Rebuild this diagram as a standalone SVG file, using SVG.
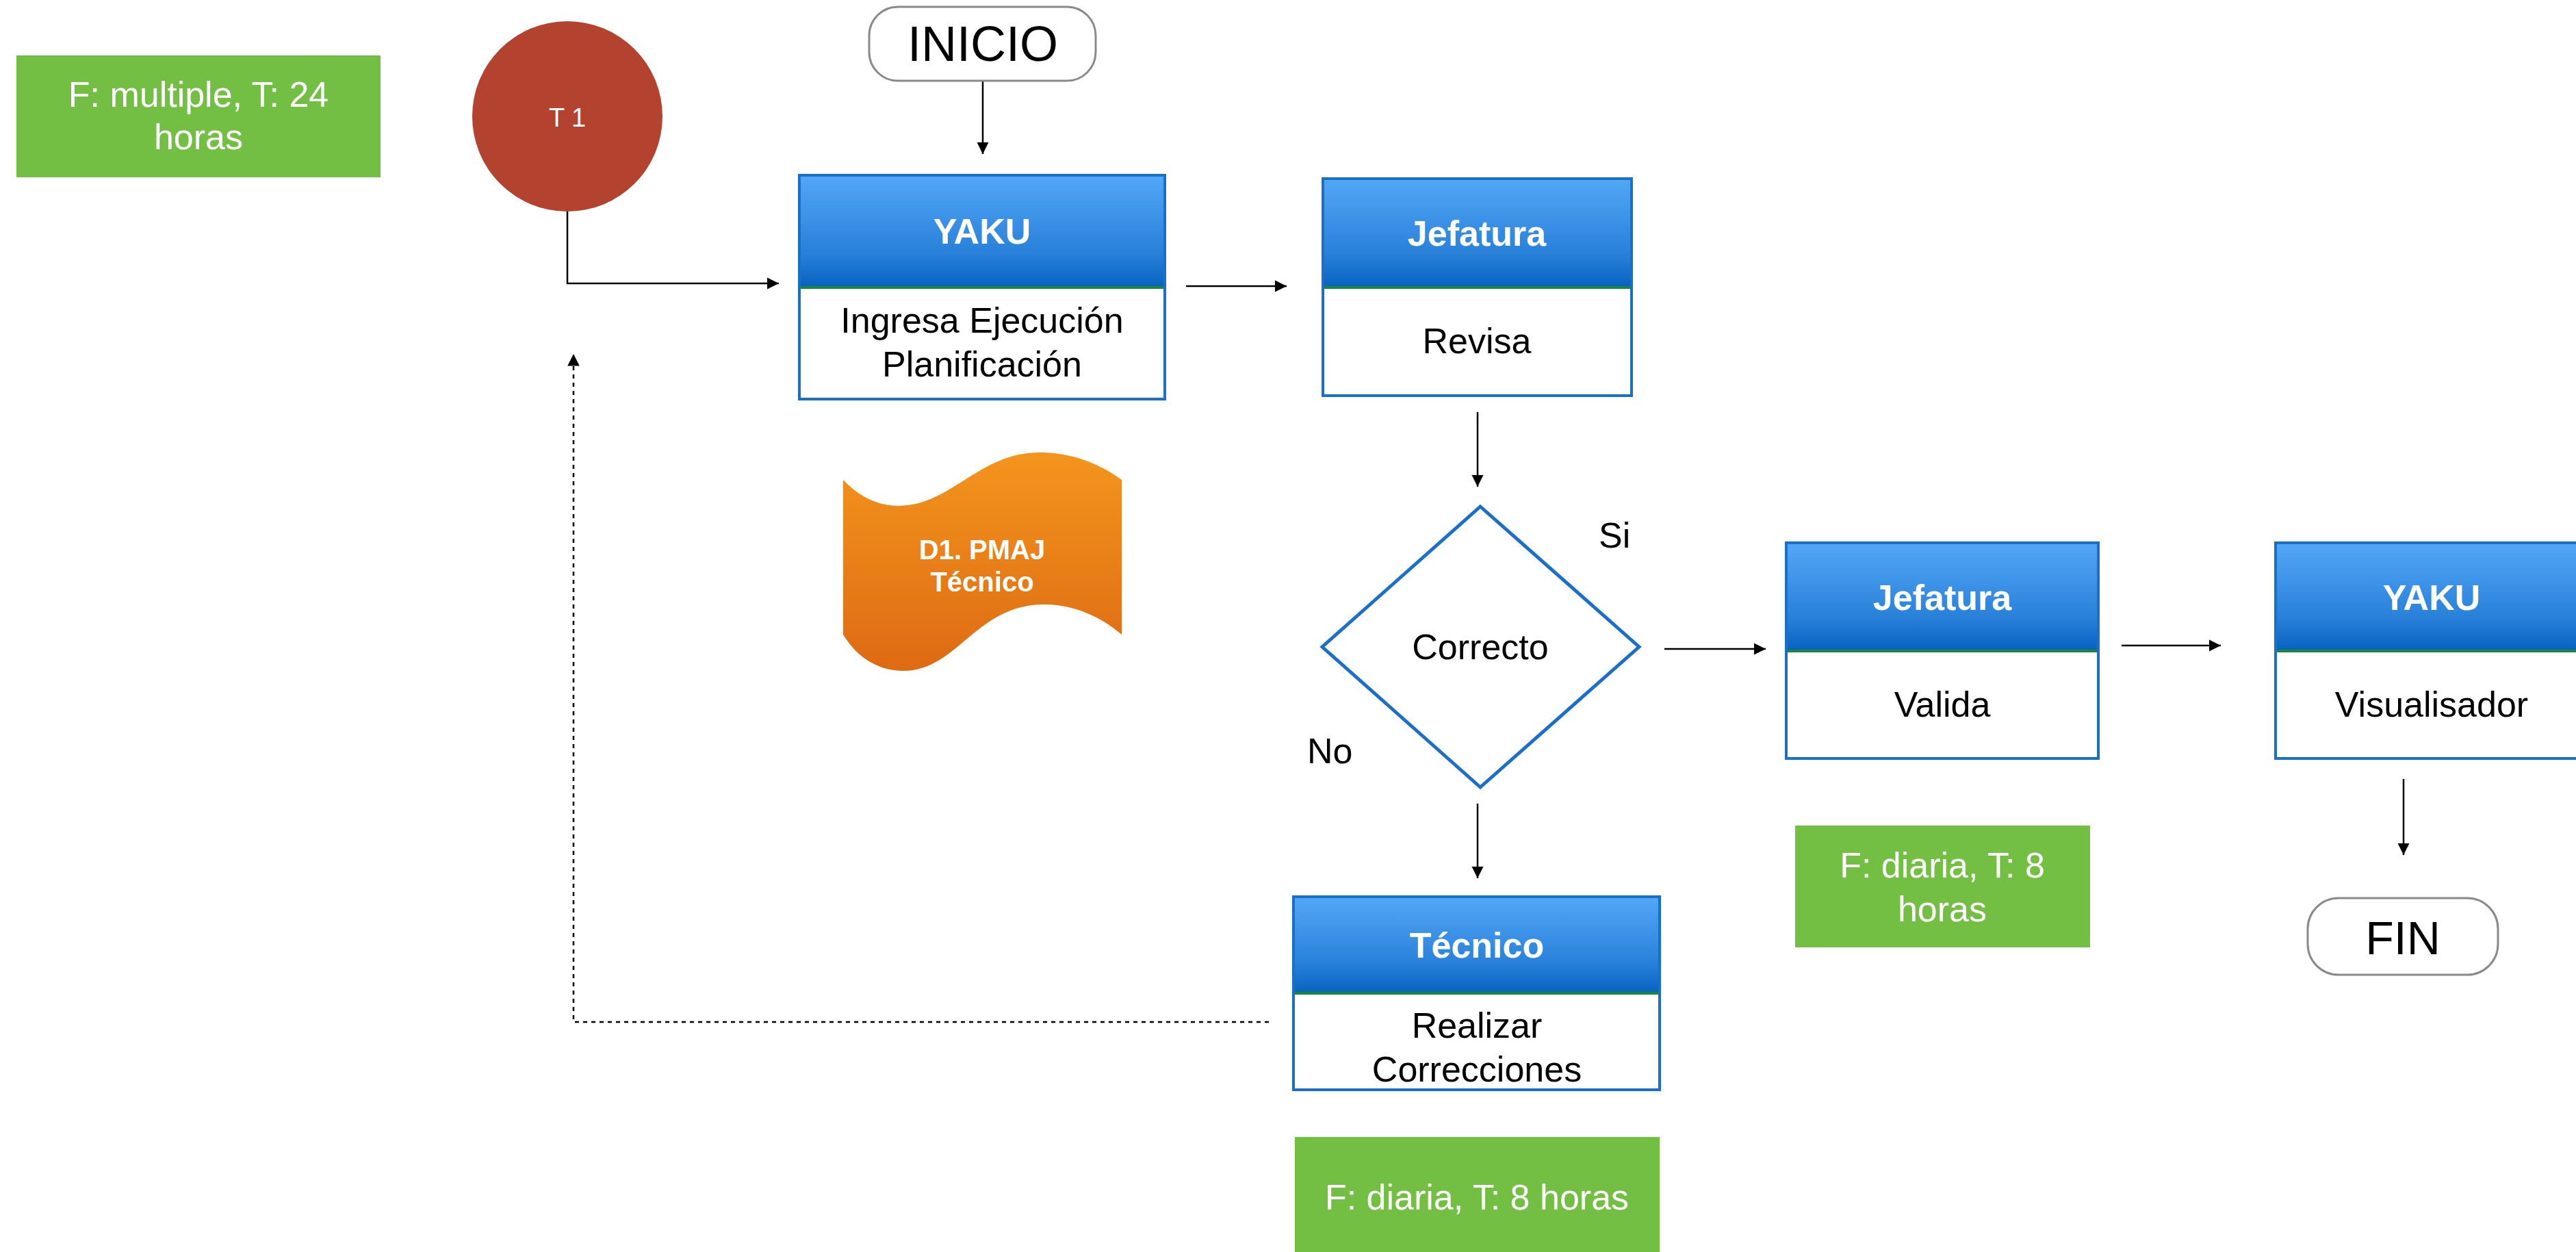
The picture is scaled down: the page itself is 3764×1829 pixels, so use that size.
<svg xmlns="http://www.w3.org/2000/svg" width="3764" height="1829" viewBox="0 0 3764 1829">
<defs>
<linearGradient id="hdr" x1="0" y1="0" x2="0" y2="1">
<stop offset="0" stop-color="#52a6f6"/>
<stop offset="0.7" stop-color="#2880d9"/>
<stop offset="1" stop-color="#0862c0"/>
</linearGradient>
<linearGradient id="org" x1="0" y1="0" x2="0" y2="1">
<stop offset="0" stop-color="#f3951d"/>
<stop offset="1" stop-color="#de6a13"/>
</linearGradient>
<marker id="ah" viewBox="0 0 10 10" refX="10" refY="5" markerWidth="7" markerHeight="7" markerUnits="strokeWidth" orient="auto">
<path d="M0,0 L10,5 L0,10 Z" fill="#000"/>
</marker>
</defs>
<style>
.conn{fill:none;stroke:#000;stroke-width:2.5}
.dash{stroke-dasharray:6 6}
.box{fill:#fff;stroke:#1a6fca;stroke-width:4}
.hdr{fill:url(#hdr)}
.sep{stroke:#17873a;stroke-width:4}
.green{fill:#72bf44}
.term{fill:#fff;stroke:#8a8a8a;stroke-width:3}
.t{font-family:"Liberation Sans",Arial,sans-serif;text-anchor:middle}
.hd{font-weight:bold;fill:#fff;font-size:52px}
.bd{fill:#000;font-size:52px}
.wt{fill:#fff;font-size:52px}
</style>
<rect width="3764" height="1829" fill="#fff"/>

<g id="connectors">
<path class="conn" d="M1436,119 L1436,225" marker-end="url(#ah)"/>
<path class="conn" d="M829,308 L829,414 L1138,414" marker-end="url(#ah)"/>
<path class="conn" d="M1733,418 L1880,418" marker-end="url(#ah)"/>
<path class="conn" d="M2159,602 L2159,711" marker-end="url(#ah)"/>
<path class="conn" d="M2432,948 L2580,948" marker-end="url(#ah)"/>
<path class="conn" d="M3100,943 L3245,943" marker-end="url(#ah)"/>
<path class="conn" d="M2159,1174 L2159,1283" marker-end="url(#ah)"/>
<path class="conn" d="M3512,1138 L3512,1249" marker-end="url(#ah)"/>
<path class="conn dash" d="M1854,1493 L838,1493 L838,517" marker-end="url(#ah)"/>
</g>

<g id="note1">
<rect class="green" x="24" y="81" width="532" height="178"/>
<text class="t wt" x="290" y="156">F: multiple, T: 24</text>
<text class="t wt" x="290" y="218">horas</text>
</g>

<g id="t1">
<circle cx="829" cy="170" r="139" fill="#b3432f"/>
<text class="t" x="829" y="185" fill="#fff" font-size="38">T 1</text>
</g>

<g id="inicio">
<rect class="term" x="1270" y="10" width="331" height="108" rx="42"/>
<text class="t" x="1436" y="89" font-size="72" fill="#000">INICIO</text>
</g>

<g id="yaku1">
<rect class="box" x="1168" y="256" width="534" height="327"/>
<rect class="hdr" x="1170" y="258" width="530" height="161"/>
<line class="sep" x1="1170" y1="420" x2="1700" y2="420"/>
<text class="t hd" x="1435" y="356">YAKU</text>
<text class="t bd" x="1435" y="486">Ingresa Ejecución</text>
<text class="t bd" x="1435" y="550">Planificación</text>
</g>

<g id="jefatura1">
<rect class="box" x="1933" y="261" width="451" height="317"/>
<rect class="hdr" x="1935" y="263" width="447" height="156"/>
<line class="sep" x1="1935" y1="420" x2="2382" y2="420"/>
<text class="t hd" x="2158" y="359">Jefatura</text>
<text class="t bd" x="2158" y="516">Revisa</text>
</g>

<g id="doc">
<path d="M1232,701 C1258,728 1285,739 1312,739 C1390,739 1430,661 1519,661 C1570,661 1610,680 1639,701 L1639,927 C1610,902 1570,883 1526,883 C1425,883 1400,980 1320,980 C1282,980 1252,960 1232,927 Z" fill="url(#org)"/>
<text class="t" x="1435" y="817" fill="#fff" font-weight="bold" font-size="40">D1. PMAJ</text>
<text class="t" x="1435" y="864" fill="#fff" font-weight="bold" font-size="40">Técnico</text>
</g>

<g id="correcto">
<polygon points="2163,740 2395,945 2163,1150 1932,945" fill="#fff" stroke="#1a6fca" stroke-width="5"/>
<text class="t bd" x="2163" y="963">Correcto</text>
<text class="bd" x="2336" y="800" font-family="Liberation Sans, Arial, sans-serif">Si</text>
<text class="bd" x="1910" y="1115" font-family="Liberation Sans, Arial, sans-serif">No</text>
</g>

<g id="jefatura2">
<rect class="box" x="2610" y="793" width="456" height="315"/>
<rect class="hdr" x="2612" y="795" width="452" height="155"/>
<line class="sep" x1="2612" y1="951" x2="3064" y2="951"/>
<text class="t hd" x="2838" y="891">Jefatura</text>
<text class="t bd" x="2838" y="1047">Valida</text>
</g>

<g id="yaku2">
<rect class="box" x="3325" y="793" width="456" height="315"/>
<rect class="hdr" x="3327" y="795" width="452" height="155"/>
<line class="sep" x1="3327" y1="951" x2="3779" y2="951"/>
<text class="t hd" x="3553" y="891">YAKU</text>
<text class="t bd" x="3553" y="1047">Visualisador</text>
</g>

<g id="note2">
<rect class="green" x="2623" y="1206" width="431" height="178"/>
<text class="t wt" x="2838" y="1282">F: diaria, T: 8</text>
<text class="t wt" x="2838" y="1346">horas</text>
</g>

<g id="fin">
<rect class="term" x="3372" y="1312" width="278" height="112" rx="45"/>
<text class="t" x="3511" y="1394" font-size="68" fill="#000">FIN</text>
</g>

<g id="tecnico">
<rect class="box" x="1890" y="1310" width="535" height="282"/>
<rect class="hdr" x="1892" y="1312" width="531" height="138"/>
<line class="sep" x1="1892" y1="1451" x2="2423" y2="1451"/>
<text class="t hd" x="2158" y="1399">Técnico</text>
<text class="t bd" x="2158" y="1516">Realizar</text>
<text class="t bd" x="2158" y="1580">Correcciones</text>
</g>

<g id="note3">
<rect class="green" x="1892" y="1661" width="533" height="168"/>
<text class="t wt" x="2158" y="1767">F: diaria, T: 8 horas</text>
</g>
</svg>
